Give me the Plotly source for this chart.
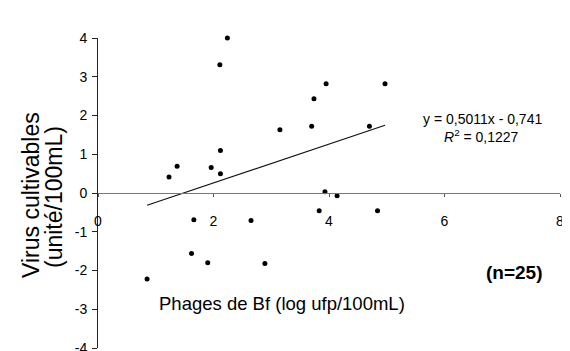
import numpy as np
import plotly.graph_objects as go

# Data
phages_x = [0.85, 1.23, 1.37, 1.62, 1.66, 1.90, 1.96, 2.11, 2.12, 2.12, 2.24,
            2.65, 2.89, 3.15, 3.70, 3.74, 3.83, 3.93, 3.95, 4.14, 4.70, 4.84, 4.97]
virus_y = [-2.22, 0.41, 0.69, -1.56, -0.69, -1.80, 0.66, 3.31, 1.10, 0.50, 4.0,
           -0.71, -1.82, 1.63, 1.72, 2.43, -0.46, 0.03, 2.82, -0.07, 1.72, -0.46, 2.82]
slope = 0.5011
intercept = -0.741
r2 = 0.1227
x_ticks = [0, 2, 4, 6, 8]
y_ticks = [-4, -3, -2, -1, 0, 1, 2, 3, 4]

FONT = "Arial, Liberation Sans, sans-serif"

# page body has an 8px margin: figure sits at (8, 8) in the window
OFF = 8
FIG_W, FIG_H = 570 - OFF, 351 - OFF
PL, PT, PW, PH = 98, 38, 462, 310  # plot area in window pixels


def px(xw):
    return (xw - PL) / PW


def py(yw):
    return (PT + PH - yw) / PH


fit_x = np.array([min(phages_x), max(phages_x)])
fit_y = slope * fit_x + intercept

fig = go.Figure()
fig.add_trace(go.Scatter(x=fit_x, y=fit_y, mode="lines",
                         line=dict(color="#111", width=1.2), showlegend=False,
                         hoverinfo="skip"))
fig.add_trace(go.Scatter(x=phages_x, y=virus_y, mode="markers", cliponaxis=False,
                         marker=dict(color="black", size=5), showlegend=False))

fig.update_layout(
    width=FIG_W, height=FIG_H,
    margin=dict(l=PL - OFF, r=FIG_W - (PL - OFF) - PW, t=PT - OFF,
                b=FIG_H - (PT - OFF) - PH, autoexpand=False),
    paper_bgcolor="white", plot_bgcolor="white",
    font=dict(family=FONT, color="black"),
    xaxis=dict(range=[0, 8], tickvals=x_ticks, ticktext=[str(v) for v in x_ticks],
               anchor="free", position=0.5, showline=True, linecolor="#777",
               linewidth=1, ticks="outside", ticklen=3, tickcolor="#555",
               showgrid=False, zeroline=False, tickfont=dict(size=14, family=FONT),
               ticklabelstandoff=12, automargin=False, ticklabeloverflow="allow"),
    yaxis=dict(range=[-4, 4], tickvals=y_ticks, ticktext=[str(v) for v in y_ticks],
               showline=True, linecolor="#222", linewidth=1, ticks="outside",
               ticklen=5, tickcolor="#222", showgrid=False, zeroline=False,
               tickfont=dict(size=14, family=FONT), ticklabelstandoff=2,
               automargin=False, ticklabeloverflow="allow"),
    annotations=[
        dict(text="Virus cultivables", xref="paper", yref="paper",
             x=px(31), y=py(195), textangle=-90, showarrow=False,
             font=dict(size=23, family=FONT), xanchor="center", yanchor="middle"),
        dict(text="(unité/100mL)", xref="paper", yref="paper",
             x=px(54), y=py(197), textangle=-90, showarrow=False,
             font=dict(size=23, family=FONT), xanchor="center", yanchor="middle"),
        dict(text="Phages de Bf (log ufp/100mL)", xref="paper", yref="paper",
             x=px(282), y=py(303), showarrow=False,
             font=dict(size=18.5, family=FONT), xanchor="center", yanchor="middle"),
        dict(text="<b>(n=25)</b>", xref="paper", yref="paper",
             x=px(514), y=py(272), showarrow=False,
             font=dict(size=19, family=FONT), xanchor="center", yanchor="middle"),
        dict(text=f"y = {str(slope).replace('.', ',')}x - {str(-intercept).replace('.', ',')}",
             xref="paper", yref="paper", x=px(482), y=py(119), showarrow=False,
             font=dict(size=14, family=FONT), xanchor="center", yanchor="middle"),
        dict(text=f"<i>R</i><sup>2</sup> = {str(r2).replace('.', ',')}",
             xref="paper", yref="paper", x=px(481), y=py(136), showarrow=False,
             font=dict(size=14, family=FONT), xanchor="center", yanchor="middle"),
    ],
)

fig.write_html("out.html")
